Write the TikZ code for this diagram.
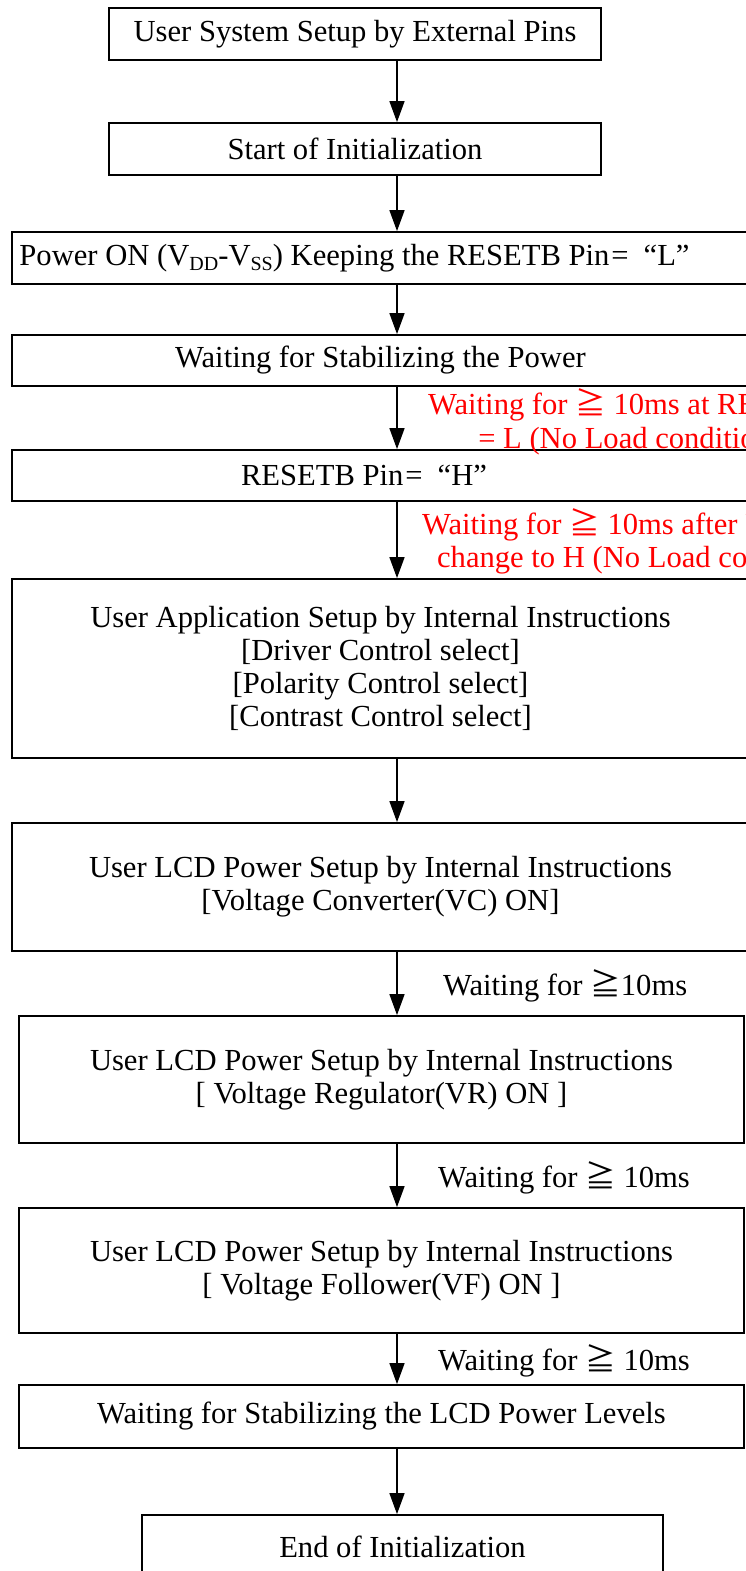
\documentclass[tikz,border=0pt]{standalone}
\usepackage{fontspec}
\setmainfont{Liberation Serif}
\newfontfamily\cjkfont{Noto Sans CJK JP}
\usetikzlibrary{arrows.meta}
\newcommand\gq{{\cjkfont ≧}}
\newcommand\sbs[1]{\raisebox{-5pt}{\fontsize{20}{20}\selectfont #1}}
\newcommand\bfnt{\fontsize{30.6}{33}\selectfont}
\begin{document}
\begin{tikzpicture}[x=1pt,y=-1pt,
  box/.style={draw, line width=1.8pt, inner sep=0pt, align=center, font=\bfnt},
  lbl/.style={inner sep=0pt, font=\bfnt},
  redlbl/.style={lbl, text=red},
  arr/.style={line width=1.5pt, -{Triangle[length=21pt,width=15pt]}}]
\useasboundingbox (0,0) rectangle (746,1571);
\clip (0,0) rectangle (746,1571);
\fill[white] (0,0) rectangle (746,1571);
\coordinate (ax) at (397,0);
% boxes
\node[box, minimum width=492pt, minimum height=52pt] (b1) at (355,34) {User System Setup by External Pins};
\node[box, minimum width=492pt, minimum height=52pt] (b2) at (355,149) {Start of Initialization};
\node[box, minimum width=737pt, minimum height=52pt] (b3) at (380.5,258) {Power ON (V\sbs{DD}-V\sbs{SS}) Keeping the RESETB Pin\hspace{2pt}=\hspace{15pt}“L”\hspace{52pt}};
\node[box, minimum width=737pt, minimum height=51pt] (b4) at (380.5,360.5) {Waiting for Stabilizing the Power};
\node[box, minimum width=737pt, minimum height=51pt] (b5) at (380.5,475.5) {RESETB Pin\hspace{2pt}=\hspace{15pt}“H”\hspace{33pt}};
\node[box, minimum width=737pt, minimum height=179pt] (b6) at (380.5,668.5) {User Application Setup by Internal Instructions\\{[}Driver Control select]\\{[}Polarity Control select]\\{[}Contrast Control select]};
\node[box, minimum width=737pt, minimum height=128pt] (b7) at (380.5,887) {User LCD Power Setup by Internal Instructions\\{[}Voltage Converter(VC) ON]};
\node[box, minimum width=725pt, minimum height=127pt] (b8) at (381.5,1079.5) {User LCD Power Setup by Internal Instructions\\{[} Voltage Regulator(VR) ON ]};
\node[box, minimum width=725pt, minimum height=125pt] (b9) at (381.5,1270.5) {User LCD Power Setup by Internal Instructions\\{[} Voltage Follower(VF) ON ]};
\node[box, minimum width=725pt, minimum height=63pt] (b10) at (381.5,1416.5) {Waiting for Stabilizing the LCD Power Levels};
\node[box, minimum width=521pt, minimum height=63pt] (b11) at (402.5,1546.5) {End of Initialization};
% connectors
\draw[arr] (b1.south -| ax) -- (b2.north -| ax);
\draw[arr] (b2.south -| ax) -- (b3.north -| ax);
\draw[arr] (b3.south -| ax) -- (b4.north -| ax);
\draw[arr] (b4.south -| ax) -- (b5.north -| ax);
\draw[arr] (b5.south -| ax) -- (b6.north -| ax);
\draw[arr] (b6.south -| ax) -- (b7.north -| ax);
\draw[arr] (b7.south -| ax) -- (b8.north -| ax);
\draw[arr] (b8.south -| ax) -- (b9.north -| ax);
\draw[arr] (b9.south -| ax) -- (b10.north -| ax);
\draw[arr] (b10.south -| ax) -- (b11.north -| ax);
% red notes
\node[redlbl, anchor=base west] (r1a) at (428,414) {Waiting for \gq\ 10ms at RESETB};
\node[redlbl, anchor=base] (r1b) at ([yshift=-34pt]r1a.base) {= L (No Load condition)};
\node[redlbl, anchor=base west] (r2a) at (422,534) {Waiting for \gq\ 10ms after RESETB};
\node[redlbl, anchor=base] (r2b) at ([yshift=-33pt]r2a.base) {change to H (No Load condition)};
% waiting labels
\node[lbl, anchor=base west] (w1) at (443,995) {Waiting for \gq10ms};
\node[lbl, anchor=base west] (w2) at (438,1187) {Waiting for \gq\ 10ms};
\node[lbl, anchor=base west] (w3) at (438,1370) {Waiting for \gq\ 10ms};
\end{tikzpicture}
\end{document}
